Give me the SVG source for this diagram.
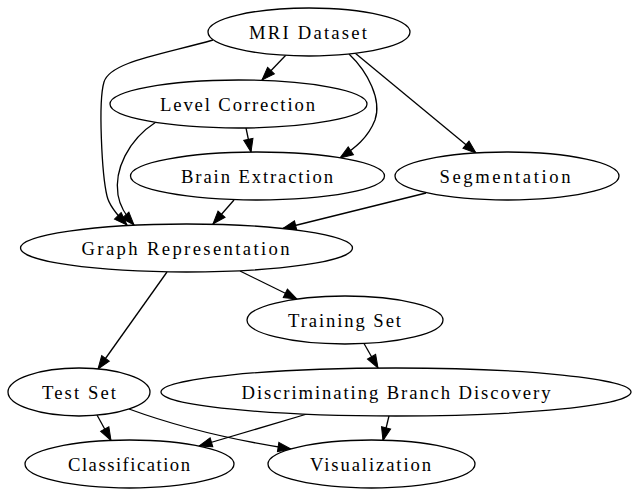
<svg xmlns="http://www.w3.org/2000/svg" width="632" height="489" viewBox="0 0 632 489">
<style>
.n ellipse{fill:#fff;stroke:#000;stroke-width:1.3}
.n text{font-family:"Liberation Serif","Times New Roman",serif;font-size:18.67px;fill:#000;text-anchor:middle}
#edges path{fill:none;stroke:#000;stroke-width:1.3;marker-end:url(#ah)}
</style>
<defs>
<marker id="ah" markerUnits="userSpaceOnUse" markerWidth="14" markerHeight="10" refX="13" refY="4.7" orient="auto" overflow="visible">
<path d="M0,0 L13,4.7 L0,9.4 z" fill="#000" stroke="#000" stroke-width="1"/>
</marker>
</defs>
<rect width="632" height="489" fill="#fff"/>
<g id="edges">
<path d="M286,55 L262,80"/>
<path d="M213,40 C160,55 110,62 104,82 C98,102 102,175 107,196 C109,205 116,214 127,225"/>
<path d="M156,122 C128,140 114,170 118,195 C120,207 126,216 134,225"/>
<path d="M246,128 L251,152"/>
<path d="M349,54 C368,72 382,100 375,120 C368,138 355,148 340,158"/>
<path d="M355,53 L476,153"/>
<path d="M234,200 L213,224"/>
<path d="M426,193 L283,228.5"/>
<path d="M240,271 L297,299"/>
<path d="M167,272 L98,369"/>
<path d="M364,343.5 L378,368"/>
<path d="M97,415 L111,440.5"/>
<path d="M129,409 Q200,435 291,449"/>
<path d="M307,414 L199,446"/>
<path d="M389,416 L383,440.5"/>
</g>
<g id="mri" class="n"><ellipse cx="309" cy="32" rx="101" ry="24"/><text x="308" y="38.5" textLength="118" lengthAdjust="spacing">MRI Dataset</text></g>
<g id="level" class="n"><ellipse cx="238.5" cy="104" rx="128.5" ry="24"/><text x="237.5" y="110.5" textLength="155" lengthAdjust="spacing">Level Correction</text></g>
<g id="brain" class="n"><ellipse cx="257.5" cy="176" rx="127" ry="24"/><text x="257" y="182.5" textLength="152" lengthAdjust="spacing">Brain Extraction</text></g>
<g id="seg" class="n"><ellipse cx="507" cy="176" rx="112" ry="24"/><text x="505" y="182.5" textLength="131" lengthAdjust="spacing">Segmentation</text></g>
<g id="graph" class="n"><ellipse cx="186.5" cy="248" rx="166" ry="24"/><text x="185.5" y="254.5" textLength="208" lengthAdjust="spacing">Graph Representation</text></g>
<g id="train" class="n"><ellipse cx="345" cy="320" rx="98" ry="24"/><text x="344.5" y="326.5" textLength="113" lengthAdjust="spacing">Training Set</text></g>
<g id="test" class="n"><ellipse cx="79" cy="392" rx="71" ry="24"/><text x="79" y="398.5" textLength="74" lengthAdjust="spacing">Test Set</text></g>
<g id="disc" class="n"><ellipse cx="396" cy="392" rx="235" ry="24"/><text x="396" y="398.5" textLength="309" lengthAdjust="spacing">Discriminating Branch Discovery</text></g>
<g id="class" class="n"><ellipse cx="129.5" cy="464" rx="104.5" ry="24"/><text x="129" y="470.5" textLength="122" lengthAdjust="spacing">Classification</text></g>
<g id="vis" class="n"><ellipse cx="371.5" cy="464" rx="103.5" ry="24"/><text x="370.5" y="470.5" textLength="121" lengthAdjust="spacing">Visualization</text></g>
</svg>
